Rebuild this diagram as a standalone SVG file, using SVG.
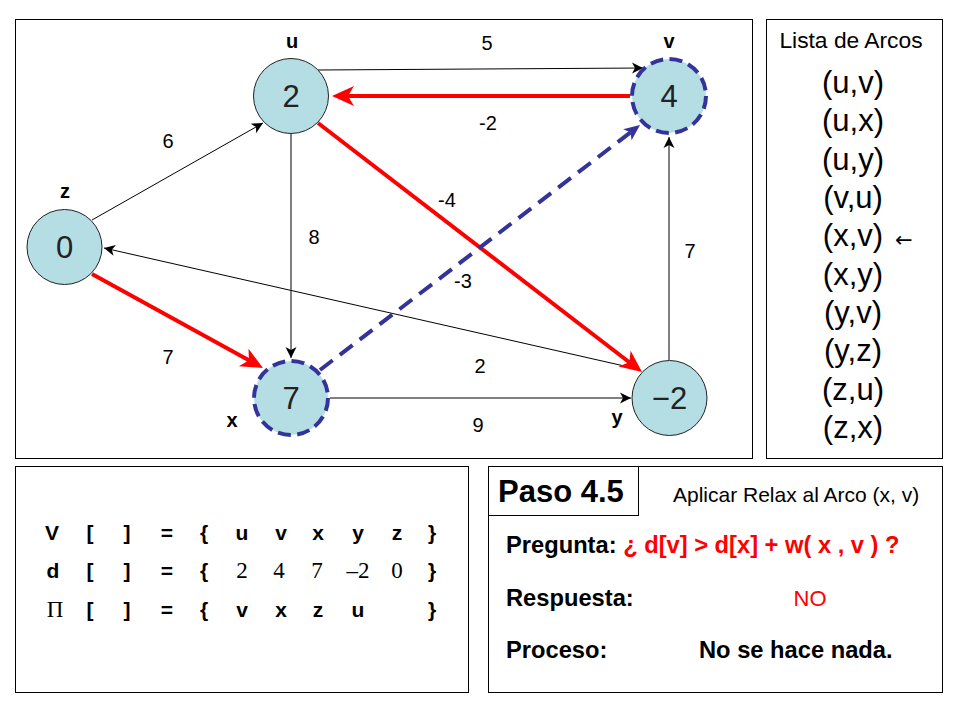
<svg xmlns="http://www.w3.org/2000/svg" width="960" height="720" viewBox="0 0 960 720">
<style>
.frame{fill:none;stroke:#000;stroke-width:1}
.node{fill:#B4DEE4;stroke:#222;stroke-width:1}
.dnode{fill:#B4DEE4;stroke:#333399;stroke-width:4;stroke-dasharray:13,6.4}
.val{font-family:"Liberation Sans",Arial,sans-serif;font-size:31px;fill:#222;text-anchor:middle}
.nlab{font-family:"Liberation Sans",Arial,sans-serif;font-size:20px;font-weight:bold;fill:#000;text-anchor:middle}
.elab{font-family:"Liberation Sans",Arial,sans-serif;font-size:20px;fill:#000;text-anchor:middle}
.thin{stroke:#000;stroke-width:1;fill:none;marker-end:url(#ah)}
.red{stroke:#FF0000;stroke-width:4;fill:none;marker-end:url(#ahr)}
.blue{stroke:#333399;stroke-width:4;fill:none;stroke-dasharray:16,9;marker-end:url(#ahb)}
.list{font-family:"Liberation Sans",Arial,sans-serif;font-size:31px;fill:#000;text-anchor:middle}
.tb{font-family:"Liberation Sans",Arial,sans-serif;font-size:21px;font-weight:bold;fill:#000;text-anchor:middle}
.ts{font-family:"Liberation Serif","Times New Roman",serif;font-size:23px;fill:#000;text-anchor:middle}
.b23{font-family:"Liberation Sans",Arial,sans-serif;font-size:23.7px;font-weight:bold;fill:#000}
</style>
<defs>
<marker id="ah" markerUnits="userSpaceOnUse" markerWidth="12" markerHeight="12" refX="11" refY="5.5" orient="auto" overflow="visible">
<path d="M0,0 L11,5.5 L0,11 L3,5.5 z" fill="#000"/>
</marker>
<marker id="ahr" markerUnits="userSpaceOnUse" markerWidth="24" markerHeight="22" refX="8" refY="10" orient="auto" overflow="visible">
<path d="M0,0 L22,10 L0,20 L6,10 z" fill="#FF0000"/>
</marker>
<marker id="ahb" markerUnits="userSpaceOnUse" markerWidth="18" markerHeight="16" refX="5" refY="7" orient="auto" overflow="visible">
<path d="M0,0 L16,7 L0,14 L4,7 z" fill="#333399"/>
</marker>
</defs>
<rect width="960" height="720" fill="#fff"/>
<g id="frames">
<rect class="frame" x="15.5" y="19.5" width="737" height="439"/>
<rect class="frame" x="766.5" y="19.5" width="176" height="439"/>
<rect class="frame" x="15.5" y="466.5" width="453" height="226"/>
<rect class="frame" x="488.5" y="466.5" width="454" height="226"/>
<rect class="frame" x="488.5" y="466.5" width="150" height="49"/>
</g>
<g id="connectors">
<line class="thin" x1="318" y1="70" x2="643" y2="68"/>
<line class="thin" x1="92" y1="220" x2="263" y2="123"/>
<line class="thin" x1="291" y1="134" x2="291" y2="358"/>
<line class="thin" x1="633" y1="368" x2="104" y2="248"/>
<line class="thin" x1="330" y1="398" x2="631" y2="398"/>
<line class="thin" x1="669" y1="360" x2="669" y2="137"/>
<line class="red" x1="630" y1="96" x2="346" y2="96"/>
<line class="red" x1="318" y1="123" x2="630.9" y2="363.5"/>
<line class="red" x1="92" y1="274" x2="250.7" y2="361.3"/>
<line class="blue" x1="320" y1="370" x2="631.3" y2="131.7"/>
<text class="elab" x="487" y="50">5</text>
<text class="elab" x="488" y="130">-2</text>
<text class="elab" x="447" y="207">-4</text>
<text class="elab" x="168" y="148">6</text>
<text class="elab" x="314" y="244">8</text>
<text class="elab" x="168" y="364">7</text>
<text class="elab" x="463" y="288">-3</text>
<text class="elab" x="690" y="258">7</text>
<text class="elab" x="480" y="373">2</text>
<text class="elab" x="478" y="432">9</text>
</g>
<g id="node-u">
<circle class="node" cx="291" cy="96" r="37.5"/>
<text class="val" x="291" y="107">2</text>
<text class="nlab" x="292" y="48">u</text>
</g>
<g id="node-v">
<circle class="dnode" cx="669" cy="96" r="37"/>
<text class="val" x="669" y="107">4</text>
<text class="nlab" x="669" y="48">v</text>
</g>
<g id="node-z">
<circle class="node" cx="64.5" cy="247" r="37.5"/>
<text class="val" x="64.5" y="258">0</text>
<text class="nlab" x="65" y="198">z</text>
</g>
<g id="node-x">
<circle class="dnode" cx="291" cy="398" r="37"/>
<text class="val" x="291" y="409">7</text>
<text class="nlab" x="232" y="427">x</text>
</g>
<g id="node-y">
<circle class="node" cx="669.5" cy="398" r="37.5"/>
<text class="val" x="669.5" y="409">−2</text>
<text class="nlab" x="617" y="424">y</text>
</g>
<g id="arc-list">
<text x="851" y="48" font-family="'Liberation Sans',Arial,sans-serif" font-size="22.8" text-anchor="middle">Lista de Arcos</text>
<text class="list" x="853" y="93">(u,v)</text>
<text class="list" x="853" y="131">(u,x)</text>
<text class="list" x="853" y="170">(u,y)</text>
<text class="list" x="853" y="208">(v,u)</text>
<text class="list" x="853" y="246">(x,v)</text>
<text class="list" x="853" y="285">(x,y)</text>
<text class="list" x="853" y="323">(y,v)</text>
<text class="list" x="853" y="361">(y,z)</text>
<text class="list" x="853" y="400">(z,u)</text>
<text class="list" x="853" y="438">(z,x)</text>
<text x="895" y="247" font-family="'DejaVu Sans',sans-serif" font-size="21">←</text>
</g>
<g id="table">
<text class="tb" x="52" y="540">V</text>
<text class="tb" x="90" y="540">[</text>
<text class="tb" x="127" y="540">]</text>
<text class="tb" x="167" y="540">=</text>
<text class="tb" x="204" y="540">{</text>
<text class="tb" x="242" y="540">u</text>
<text class="tb" x="281" y="540">v</text>
<text class="tb" x="318" y="540">x</text>
<text class="tb" x="358" y="540">y</text>
<text class="tb" x="397" y="540">z</text>
<text class="tb" x="432" y="540">}</text>
<text class="tb" x="53" y="578">d</text>
<text class="tb" x="90" y="578">[</text>
<text class="tb" x="127" y="578">]</text>
<text class="tb" x="167" y="578">=</text>
<text class="tb" x="204" y="578">{</text>
<text class="ts" x="242" y="578">2</text>
<text class="ts" x="279" y="578">4</text>
<text class="ts" x="317" y="578">7</text>
<text class="ts" x="358" y="578">–2</text>
<text class="ts" x="397" y="578">0</text>
<text class="tb" x="432" y="578">}</text>
<text class="ts" x="55" y="617">Π</text>
<text class="tb" x="90" y="617">[</text>
<text class="tb" x="127" y="617">]</text>
<text class="tb" x="167" y="617">=</text>
<text class="tb" x="204" y="617">{</text>
<text class="tb" x="242" y="617">v</text>
<text class="tb" x="281" y="617">x</text>
<text class="tb" x="318" y="617">z</text>
<text class="tb" x="358" y="617">u</text>
<text class="tb" x="432" y="617">}</text>
</g>
<g id="step">
<text x="498" y="502" font-family="'Liberation Sans',Arial,sans-serif" font-size="31" font-weight="bold">Paso 4.5</text>
<text x="673" y="502" font-family="'Liberation Sans',Arial,sans-serif" font-size="21">Aplicar Relax al Arco (x, v)</text>
<text class="b23" x="506" y="553">Pregunta: <tspan fill="#FF0000">¿ d[v] &gt; d[x] + w( x , v ) ?</tspan></text>
<text class="b23" x="506" y="606">Respuesta:</text>
<text x="810" y="606" font-family="'Liberation Sans',Arial,sans-serif" font-size="22" fill="#FF0000" text-anchor="middle">NO</text>
<text class="b23" x="506" y="658">Proceso:</text>
<text class="b23" x="699" y="658">No se hace nada.</text>
</g>
</svg>
